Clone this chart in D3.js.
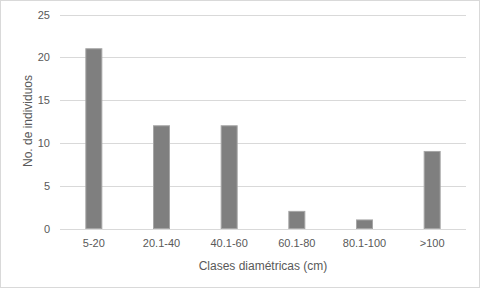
<!DOCTYPE html>
<html><head><meta charset="utf-8">
<script src="https://cdn.jsdelivr.net/npm/d3@7"></script>
<style>body{margin:0;background:#fff}svg{display:block;font-family:"Liberation Sans","DejaVu Sans",sans-serif}</style>
</head><body>
<script>
const categories = ["5-20","20.1-40","40.1-60","60.1-80","80.1-100",">100"];
const values = [21,12,12,2,1,9];
const yTicks = [0,5,10,15,20,25];
const xTitle = "Clases diamétricas (cm)";
const yTitle = "No. de individuos";

const W=480,H=288;
const svg=d3.select("body").append("svg").attr("width",W).attr("height",H);
svg.append("rect").attr("x",0.5).attr("y",0.5).attr("width",W-1).attr("height",H-1).attr("fill","#fff").attr("stroke","#d9d9d9");
const L=60,R=466,T=14.5,B=228.5;
const x=d3.scaleBand().domain(categories).range([L,R]);
const y=d3.scaleLinear().domain([0,25]).range([B,T]);
const g=svg.append("g");
g.selectAll("line.grid").data(yTicks).join("line").attr("class","grid")
 .attr("x1",L).attr("x2",R).attr("y1",d=>Math.round(y(d))+0.5).attr("y2",d=>Math.round(y(d))+0.5)
 .attr("stroke","#d9d9d9").attr("stroke-width",1);
const bw=17;
g.selectAll("rect.bar").data(values).join("rect").attr("class","bar")
 .attr("x",(d,i)=>x(categories[i])+x.bandwidth()/2-bw/2+0.5)
 .attr("y",d=>y(d)).attr("width",bw-1).attr("height",d=>B-y(d))
 .attr("fill","#7f7f7f").attr("stroke","#a6a6a6").attr("stroke-width",1);
g.selectAll("text.yt").data(yTicks).join("text").attr("class","yt")
 .attr("x",50).attr("y",d=>y(d)+4).attr("text-anchor","end")
 .attr("font-size",11).attr("fill","#595959").text(d=>d);
g.selectAll("text.xt").data(categories).join("text").attr("class","xt")
 .attr("x",d=>x(d)+x.bandwidth()/2).attr("y",247).attr("text-anchor","middle")
 .attr("font-size",11).attr("fill","#595959").text(d=>d);
svg.append("text").attr("x",263).attr("y",270).attr("text-anchor","middle")
 .attr("font-size",12).attr("fill","#595959").text(xTitle);
svg.append("text").attr("transform","translate(32,121) rotate(-90)").attr("text-anchor","middle")
 .attr("font-size",12).attr("fill","#595959").text(yTitle);
</script>
</body></html>
